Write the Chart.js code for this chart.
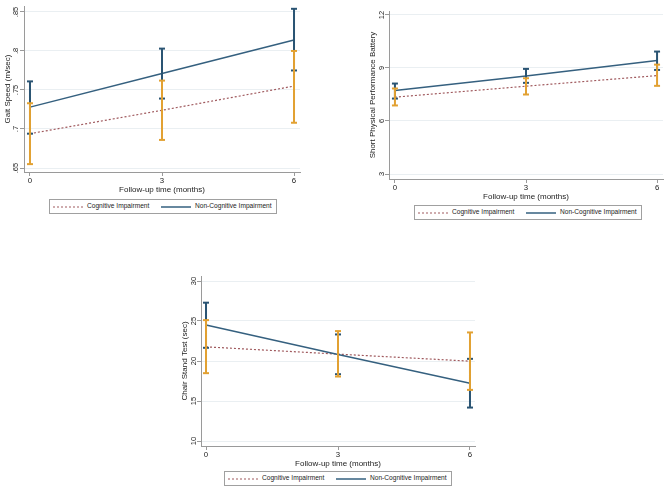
<!DOCTYPE html>
<html>
<head>
<meta charset="utf-8">
<script src="https://cdn.jsdelivr.net/npm/chart.js@4/dist/chart.umd.min.js"></script>
<style>
  html, body { margin: 0; padding: 0; background: #ffffff; }
  body { width: 669px; height: 490px; position: relative; overflow: hidden; font-family: "Liberation Sans", Arial, sans-serif; }
  canvas { position: absolute; display: block; }
  .legend { position: absolute; border: 1px solid #a0a0a0; background: #fff; box-sizing: border-box; }
  .legend span { position: absolute; font-size: 6.6px; color: #222; white-space: nowrap; line-height: 1; }
  .legend svg { position: absolute; }
</style>
</head>
<body>
<canvas id="c1" width="310" height="196" style="left:0px;top:0px;width:310px;height:196px"></canvas>
<canvas id="c2" width="329" height="203" style="left:340px;top:0px;width:329px;height:203px"></canvas>
<canvas id="c3" width="315" height="210" style="left:170px;top:260px;width:315px;height:210px"></canvas>
<div id="legends"></div>
<script>
// ---------------- data ----------------
const timePoints = [0, 3, 6];
const xTickLabels = ['0', '3', '6'];
const seriesNames = ['Cognitive Impairment', 'Non-Cognitive Impairment'];
const xTitle = 'Follow-up time (months)';

// Gait speed (m/sec)
const gaitCI = [0.694, 0.724, 0.755];
const gaitCILow = [0.655, 0.686, 0.708];
const gaitCIHigh = [0.733, 0.762, 0.800];
const gaitNonCI = [0.728, 0.771, 0.814];
const gaitNonCILow = [0.694, 0.739, 0.775];
const gaitNonCIHigh = [0.761, 0.803, 0.854];
const gaitTicks = [0.65, 0.7, 0.75, 0.8, 0.85];
const gaitTickLabels = ['.65', '.7', '.75', '.8', '.85'];

// Short Physical Performance Battery
const sppbCI = [7.35, 7.97, 8.57];
const sppbCILow = [6.88, 7.50, 7.99];
const sppbCIHigh = [7.84, 8.42, 9.19];
const sppbNonCI = [7.73, 8.55, 9.42];
const sppbNonCILow = [7.27, 8.16, 8.89];
const sppbNonCIHigh = [8.12, 8.95, 9.93];
const sppbTicks = [3, 6, 9, 12];
const sppbTickLabels = ['3', '6', '9', '12'];

// Chair stand test (sec)
const chairCI = [21.77, 20.86, 19.98];
const chairCILow = [18.48, 18.06, 16.39];
const chairCIHigh = [25.11, 23.74, 23.57];
const chairNonCI = [24.49, 20.81, 17.22];
const chairNonCILow = [21.65, 18.35, 14.18];
const chairNonCIHigh = [27.29, 23.32, 20.27];
const chairTicks = [10, 15, 20, 25, 30];
const chairTickLabels = ['10', '15', '20', '25', '30'];

// ---------------- styling ----------------
const COL_CI_LINE = '#a05a5e';
const COL_NCI_LINE = '#35607f';
const COL_NCI_BAR = '#2a5473';
const COL_CI_BAR = '#e2a132';
const AXIS_COL = '#9a9a9a';
const GRID_COL = '#eaeff2';
const TEXT_COL = '#222';
const FONT = '"Liberation Sans", Arial, sans-serif';

function pts(vals) { return timePoints.map((t, i) => ({ x: t, y: vals[i] })); }
function bars(lo, hi) {
  const out = [];
  timePoints.forEach((t, i) => { out.push({ x: t, y: lo[i] }, { x: t, y: hi[i] }, { x: t, y: null }); });
  return out;
}

function makeChart(id, cfg) {
  const datasets = [
    { label: 'ci-bars', data: bars(cfg.ciLow, cfg.ciHigh), borderColor: COL_CI_BAR, borderWidth: 2,
      pointStyle: 'line', pointRadius: 3, pointBorderWidth: 2, pointBorderColor: COL_CI_BAR, pointBackgroundColor: COL_CI_BAR,
      spanGaps: false, order: 0 },
    { label: 'nci-bars', data: bars(cfg.nciLow, cfg.nciHigh), borderColor: COL_NCI_BAR, borderWidth: 2,
      pointStyle: 'line', pointRadius: 3, pointBorderWidth: 2, pointBorderColor: COL_NCI_BAR, pointBackgroundColor: COL_NCI_BAR,
      spanGaps: false, order: 1 },
    { label: seriesNames[1], data: pts(cfg.nci), borderColor: COL_NCI_LINE, borderWidth: 1.5, pointRadius: 0, order: 2 },
    { label: seriesNames[0], data: pts(cfg.ci), borderColor: COL_CI_LINE, borderWidth: 1.2, borderDash: [2, 2], pointRadius: 0, order: 3 }
  ];
  return new Chart(document.getElementById(id), {
    type: 'line',
    data: { datasets },
    options: {
      responsive: false,
      animation: false,
      events: [],
      layout: { padding: cfg.padding },
      plugins: { legend: { display: false }, tooltip: { enabled: false } },
      elements: { line: { tension: 0 } },
      scales: {
        x: {
          type: 'linear', min: cfg.xMin, max: cfg.xMax,
          afterBuildTicks: s => { s.ticks = timePoints.map(v => ({ value: v })); },
          afterFit: s => { s.height = 24; },
          ticks: { callback: (v) => xTickLabels[timePoints.indexOf(v)], color: TEXT_COL, font: { family: FONT, size: 7.8 }, padding: 0.5, maxRotation: 0, autoSkip: false },
          grid: { drawOnChartArea: false, tickLength: 4, tickColor: AXIS_COL, tickWidth: 1 },
          border: { color: AXIS_COL, width: 1 },
          title: { display: true, text: xTitle, color: TEXT_COL, font: { family: FONT, size: 8 }, padding: { top: 0, bottom: 1.2 } }
        },
        y: {
          type: 'linear', min: cfg.yMin, max: cfg.yMax,
          afterBuildTicks: s => { s.ticks = cfg.yTicks.map(v => ({ value: v })); },
          afterFit: s => { s.width = 24; },
          ticks: { callback: (v) => { const i = cfg.yTicks.findIndex(t => Math.abs(t - v) < 1e-9); return i >= 0 ? cfg.yLabels[i] : ''; },
                   color: TEXT_COL, font: { family: FONT, size: 7.5 }, minRotation: 90, maxRotation: 90, crossAlign: 'center', padding: -1, autoSkip: false },
          grid: { color: GRID_COL, lineWidth: 1, tickLength: 4, tickColor: AXIS_COL, tickWidth: 1 },
          border: { color: AXIS_COL, width: 1 },
          title: { display: true, text: cfg.yTitle, color: TEXT_COL, font: { family: FONT, size: 8 }, padding: { top: 2.5, bottom: 0 } }
        }
      }
    }
  });
}

makeChart('c1', {
  ci: gaitCI, ciLow: gaitCILow, ciHigh: gaitCIHigh, nci: gaitNonCI, nciLow: gaitNonCILow, nciHigh: gaitNonCIHigh,
  yTicks: gaitTicks, yLabels: gaitTickLabels, yTitle: 'Gait Speed (m/sec)',
  yMin: 0.6449, yMax: 0.8576, xMin: -0.136, xMax: 6.136,
  padding: { left: 0, top: 5, right: 10, bottom: 0 }
});
makeChart('c2', {
  ci: sppbCI, ciLow: sppbCILow, ciHigh: sppbCIHigh, nci: sppbNonCI, nciLow: sppbNonCILow, nciHigh: sppbNonCIHigh,
  yTicks: sppbTicks, yLabels: sppbTickLabels, yTitle: 'Short Physical Performance Battery',
  yMin: 2.717, yMax: 12.226, xMin: -0.136, xMax: 6.136,
  padding: { left: 25, top: 11, right: 4, bottom: 0 }
});
makeChart('c3', {
  ci: chairCI, ciLow: chairCILow, ciHigh: chairCIHigh, nci: chairNonCI, nciLow: chairNonCILow, nciHigh: chairNonCIHigh,
  yTicks: chairTicks, yLabels: chairTickLabels, yTitle: 'Chair Stand Test (sec)',
  yMin: 9.375, yMax: 30.625, xMin: -0.114, xMax: 6.114,
  padding: { left: 7, top: 16, right: 10, bottom: 0 }
});

// ---------------- legends ----------------
function legend(left, top, h) {
  const d = document.createElement('div');
  d.className = 'legend';
  d.style.left = left + 'px'; d.style.top = top + 'px'; d.style.width = '228px'; d.style.height = h + 'px';
  const mid = (h - 2) / 2;
  d.innerHTML =
    `<svg width="32" height="4" style="left:2px;top:${mid - 2}px"><line x1="1" y1="2" x2="31" y2="2" stroke="${COL_CI_LINE}" stroke-width="1.2" stroke-dasharray="2,2"/></svg>` +
    `<span style="left:37px;top:${mid - 3.5}px">${seriesNames[0]}</span>` +
    `<svg width="32" height="4" style="left:111px;top:${mid - 2}px"><line x1="0" y1="2" x2="30" y2="2" stroke="${COL_NCI_LINE}" stroke-width="1.5"/></svg>` +
    `<span style="left:145px;top:${mid - 3.5}px">${seriesNames[1]}</span>`;
  document.getElementById('legends').appendChild(d);
}
legend(49, 199, 15);
legend(414, 205, 15);
legend(224, 471, 15);
</script>
</body>
</html>
